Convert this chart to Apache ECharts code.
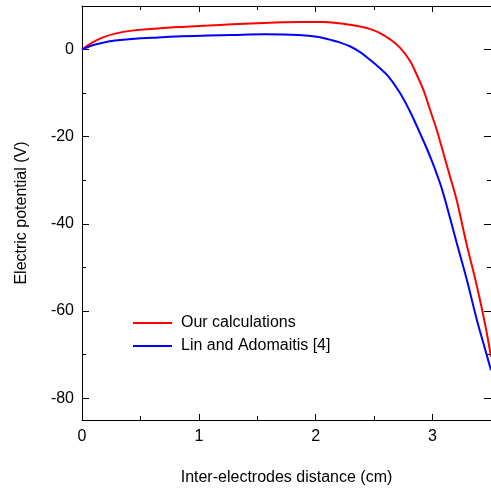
<!DOCTYPE html>
<html>
<head>
<meta charset="utf-8">
<script src="https://cdn.jsdelivr.net/npm/echarts@6/dist/echarts.min.js"></script>
<style>
html,body{margin:0;padding:0;background:#fff;}
#chart{width:491px;height:491px;}
</style>
</head>
<body>
<div id="chart"></div>
<script>
// Data
const seriesNames = ['Our calculations', 'Lin and Adomaitis [4]'];
const ourX = [0, 0.083, 0.169, 0.283, 0.425, 0.65, 0.853, 1.08, 1.282, 1.5, 1.71, 1.864, 2.052, 2.2, 2.292, 2.38, 2.462, 2.55, 2.634, 2.719, 2.805, 2.848, 2.92, 2.977, 3.034, 3.091, 3.148, 3.204, 3.291, 3.377, 3.448, 3.5];
const ourY = [0, 1.53, 2.68, 3.66, 4.35, 4.85, 5.19, 5.5, 5.79, 6.05, 6.25, 6.34, 6.3, 6.05, 5.72, 5.3, 4.74, 3.8, 2.4, 0.5, -2.5, -4.8, -9.15, -13.7, -18.3, -23.6, -29.0, -34.3, -44.6, -54.0, -62.8, -70.5];
const linX = [0, 0.083, 0.169, 0.283, 0.425, 0.65, 0.853, 1.08, 1.282, 1.564, 1.853, 2.025, 2.12, 2.2, 2.292, 2.38, 2.462, 2.55, 2.62, 2.72, 2.805, 2.891, 2.977, 3.062, 3.105, 3.205, 3.291, 3.377, 3.448, 3.5];
const linY = [0, 0.92, 1.53, 2.06, 2.45, 2.8, 3.04, 3.22, 3.36, 3.5, 3.36, 2.90, 2.29, 1.7, 0.76, -0.6, -2.29, -4.3, -6.1, -9.9, -14.1, -19.1, -24.4, -30.5, -34.3, -44.2, -52.6, -61.8, -68.6, -73.6];
const xMajorTicks = [0, 1, 2, 3];
const xMinorTicks = [0.5, 1.5, 2.5, 3.5];
const yMajorTicks = [-80, -60, -40, -20, 0];
const yMinorTicks = [-70, -50, -30, -10, 10];
const xRange = [0, 3.5];
const yRange = [-85, 10];
const xTitle = 'Inter-electrodes distance (cm)';
const yTitle = 'Electric potential (V)';

const font = "'Liberation Sans', Arial, sans-serif";
const axisColor = '#000';

function zip(xs, ys) { return xs.map((x, i) => [x, ys[i]]); }

function xAxisDef(pos, ticks, len, showLine, showLabel, name) {
  return {
    type: 'value', position: pos, min: xRange[0], max: xRange[1],
    gridIndex: 0,
    name: name || '', nameLocation: 'middle', nameGap: 50,
    nameTextStyle: { fontFamily: font, fontSize: 16, color: axisColor },
    axisLine: { show: showLine, onZero: false, lineStyle: { color: axisColor, width: 1 } },
    axisTick: { show: true, inside: true, length: len, customValues: ticks, lineStyle: { color: axisColor, width: 1 } },
    axisLabel: { show: showLabel, customValues: ticks, margin: 9, fontFamily: font, fontSize: 16, color: axisColor },
    splitLine: { show: false }
  };
}
function yAxisDef(pos, ticks, len, showLine, showLabel, name) {
  return {
    type: 'value', position: pos, min: yRange[0], max: yRange[1],
    gridIndex: 0,
    name: name || '', nameLocation: 'middle', nameGap: 52,
    nameTextStyle: { fontFamily: font, fontSize: 16, color: axisColor },
    axisLine: { show: showLine, onZero: false, lineStyle: { color: axisColor, width: 1 } },
    axisTick: { show: true, inside: true, length: len, customValues: ticks, lineStyle: { color: axisColor, width: 1 } },
    axisLabel: { show: showLabel, customValues: ticks, margin: 8, fontFamily: font, fontSize: 16, color: axisColor },
    splitLine: { show: false }
  };
}

const chart = echarts.init(document.getElementById('chart'), null, { renderer: 'canvas' });
chart.setOption({
  backgroundColor: '#fff',
  animation: false,
  grid: { left: 82, right: 0, top: 6, bottom: 71, containLabel: false },
  legend: {
    left: 133, top: 315, orient: 'vertical', padding: 0,
    icon: 'path://M0,0 H39 V2 H0 Z',
    itemWidth: 39, itemHeight: 2, itemGap: 7,
    textStyle: { fontFamily: font, fontSize: 16, color: '#000', lineHeight: 16, padding: [0, 0, 0, 4] },
    data: seriesNames
  },
  xAxis: [
    xAxisDef('bottom', xMajorTicks, 6, true, true, xTitle),
    xAxisDef('top', xMajorTicks, 6, true, false),
    xAxisDef('bottom', xMinorTicks, 4, false, false),
    xAxisDef('top', xMinorTicks, 4, false, false)
  ],
  yAxis: [
    yAxisDef('left', yMajorTicks, 7, true, true, yTitle),
    yAxisDef('right', yMajorTicks, 7, true, false),
    yAxisDef('left', yMinorTicks, 4, false, false),
    yAxisDef('right', yMinorTicks, 4, false, false)
  ],
  series: [
    {
      name: seriesNames[0], type: 'line', xAxisIndex: 0, yAxisIndex: 0,
      data: zip(ourX, ourY), symbol: 'none', smooth: 0.4,
      lineStyle: { color: '#ff0000', width: 2 }, itemStyle: { color: '#ff0000' }
    },
    {
      name: seriesNames[1], type: 'line', xAxisIndex: 0, yAxisIndex: 0,
      data: zip(linX, linY), symbol: 'none', smooth: 0.4,
      lineStyle: { color: '#0000ff', width: 2 }, itemStyle: { color: '#0000ff' }
    }
  ]
});
</script>
</body>
</html>
